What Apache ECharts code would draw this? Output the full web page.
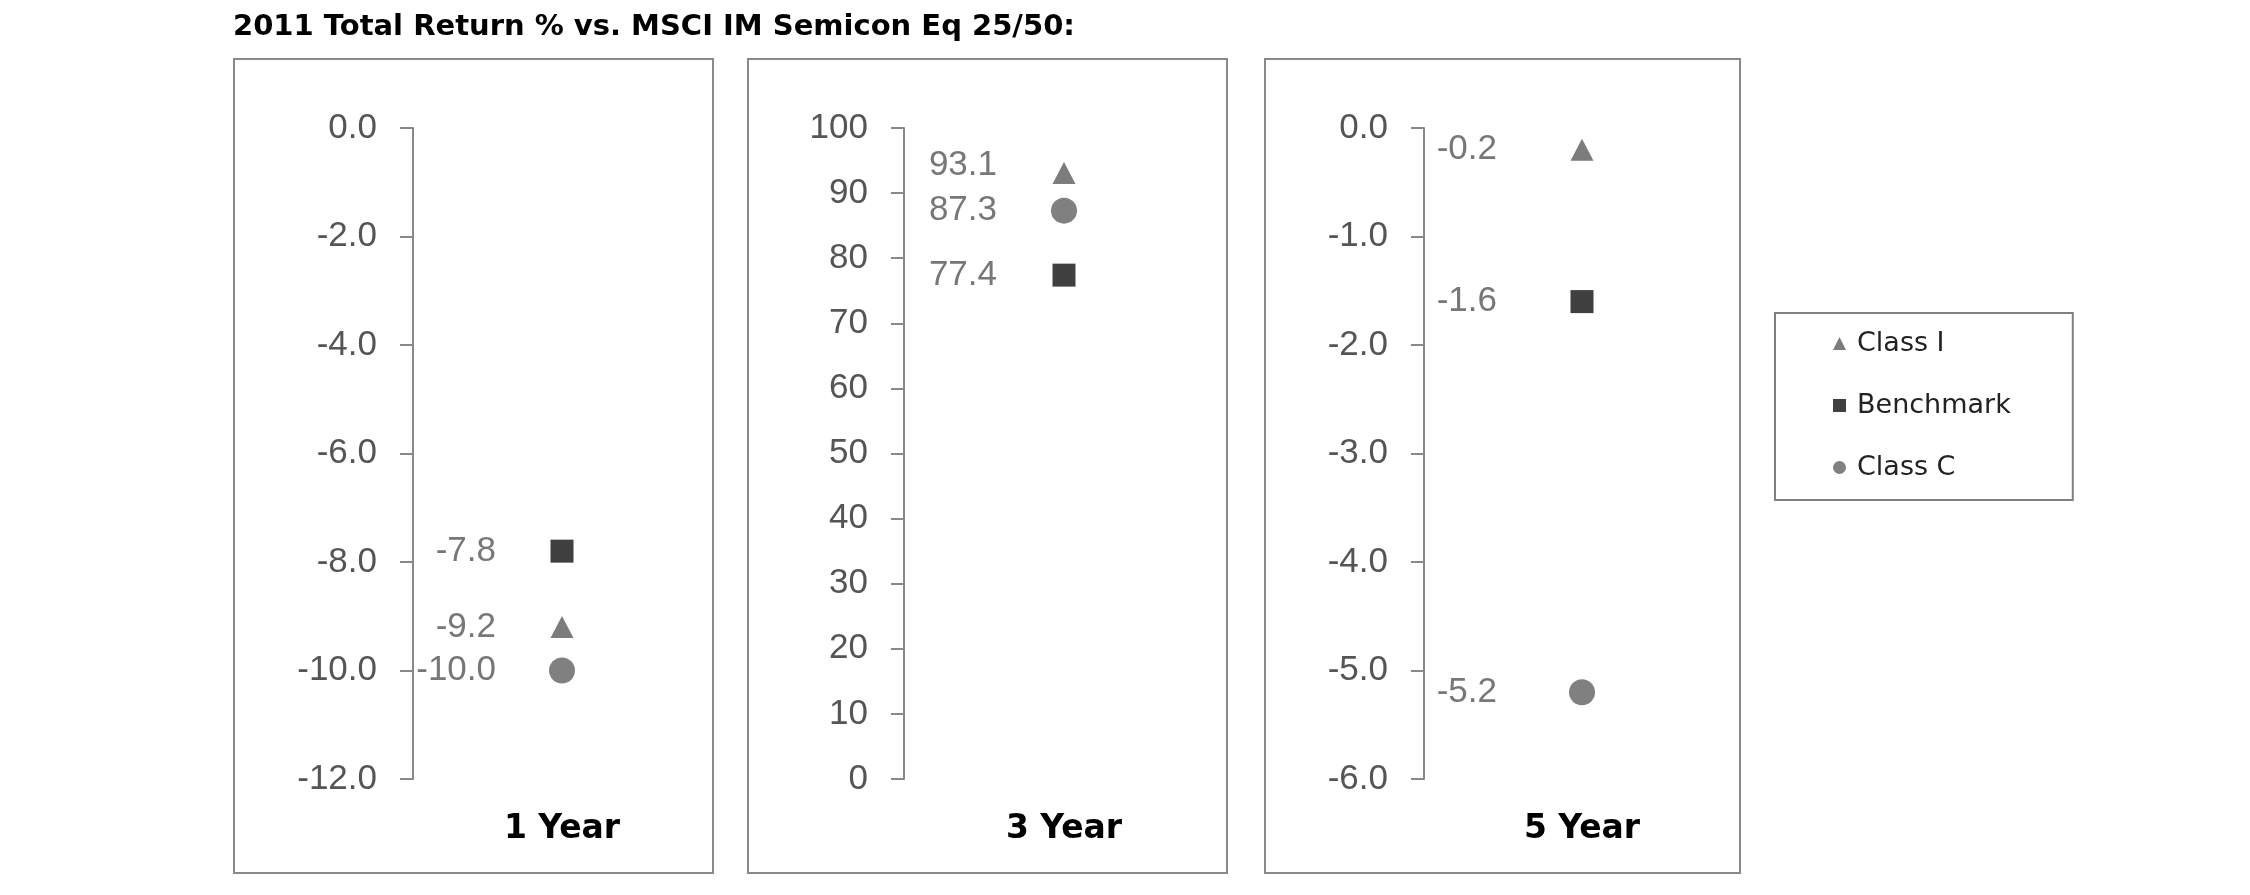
<!DOCTYPE html>
<html><head><meta charset="utf-8">
<script src="https://cdn.jsdelivr.net/npm/echarts@6/dist/echarts.min.js"></script>
<style>html,body{margin:0;padding:0;background:#fff}#c{width:2250px;height:895px}</style>
</head><body><div id="c"></div>
<script>
// ---- data ----
const periods = ['1 Year', '3 Year', '5 Year'];
const seriesNames = ['Class I', 'Benchmark', 'Class C'];
const classI = [-9.2, 93.1, -0.2];
const benchmark = [-7.8, 77.4, -1.6];
const classC = [-10.0, 87.3, -5.2];
const axisMin = [-12, 0, -6];
const axisMax = [0, 100, 0];
const axisStep = [2, 10, 1];
const tickDecimals = [1, 0, 1];
const chartTitle = '2011 Total Return % vs. MSCI IM Semicon Eq 25/50:';

// ---- styling / layout ----
function hasFont(name){
  const c = document.createElement('canvas').getContext('2d');
  const s = '-10.0 Benchmark 0123456789';
  c.font = '40px monospace'; const a = c.measureText(s).width;
  c.font = "40px '" + name + "', monospace"; return Math.abs(c.measureText(s).width - a) > 0.5;
}
const narrow = hasFont('Liberation Sans Narrow');
const numFont = narrow ? "'Liberation Sans Narrow', 'Arial Narrow'" : "'Liberation Sans', Arial";
const numSize = narrow ? 38 : 35;
const boldFont = "'DejaVu Sans', Verdana, sans-serif";

const panels = [
  {box:[234, 59, 713, 873], gridLeft:413, gridRight:711, gap:66},
  {box:[748, 59, 1227, 873], gridLeft:904, gridRight:1224, gap:67},
  {box:[1265, 59, 1740, 873], gridLeft:1424, gridRight:1740, gap:85}
];
const seriesValues = [classI, benchmark, classC];
const symbols = ['triangle', 'rect', 'circle'];
const symbolSizes = [[23, 22], [23, 23], [26, 26]];
const colors = ['#7c7c7c', '#404040', '#808080'];
const labelNudge = {'1-0': [0, -8]};

const grids = [], xAxes = [], yAxes = [], series = [], graphics = [];
panels.forEach((p, i) => {
  graphics.push({type:'rect', z:-10, shape:{x:p.box[0], y:p.box[1], width:p.box[2]-p.box[0], height:p.box[3]-p.box[1]},
    style:{fill:'#fff', stroke:'#8a8a8a', lineWidth:2}});
  grids.push({left:p.gridLeft, width:p.gridRight - p.gridLeft, top:128, bottom:116});
  xAxes.push({type:'category', gridIndex:i, data:[periods[i]],
    axisLine:{show:false}, axisTick:{show:false}, splitLine:{show:false},
    axisLabel:{margin:34, fontFamily:boldFont, fontWeight:'bold', fontSize:33, color:'#000'}});
  yAxes.push({type:'value', gridIndex:i, min:axisMin[i], max:axisMax[i], interval:axisStep[i],
    axisLine:{show:true, lineStyle:{color:'#888', width:2}},
    axisTick:{show:true, length:13, lineStyle:{color:'#888', width:2}},
    splitLine:{show:false},
    axisLabel:{margin:36, fontFamily:numFont, fontSize:numSize, color:'#555',
      formatter: v => v.toFixed(tickDecimals[i])}});
  seriesNames.forEach((name, s) => {
    const sz = symbolSizes[s];
    series.push({type:'scatter', name:name, xAxisIndex:i, yAxisIndex:i,
      symbol:symbols[s], symbolSize:sz,
      itemStyle:{color:colors[s], opacity:1},
      label:{show:true, position:'left', distance:p.gap - sz[0]/2,
        offset: labelNudge[i + '-' + s] || [0, 0],
        fontFamily:numFont, fontSize:numSize, color:'#777',
        formatter: d => d.value[1].toFixed(1)},
      emphasis:{disabled:true},
      data:[[periods[i], seriesValues[s][i]]]});
  });
});

const chart = echarts.init(document.getElementById('c'));
chart.setOption({
  animation:false,
  backgroundColor:'#fff',
  title:{text:chartTitle, left:233, top:13, padding:0,
    textStyle:{fontFamily:boldFont, fontWeight:'bold', fontSize:29, color:'#000'}},
  legend:{orient:'vertical', left:1775, top:313, padding:[17, 62, 19, 58],
    itemWidth:13, itemHeight:13, itemGap:35, borderColor:'#808080', borderWidth:2,
    selectedMode:false,
    textStyle:{fontFamily:boldFont, fontSize:27, color:'#222', lineHeight:27, padding:[0, 0, 0, 6]},
    data:seriesNames},
  graphic:graphics,
  grid:grids, xAxis:xAxes, yAxis:yAxes, series:series
});
</script></body></html>
